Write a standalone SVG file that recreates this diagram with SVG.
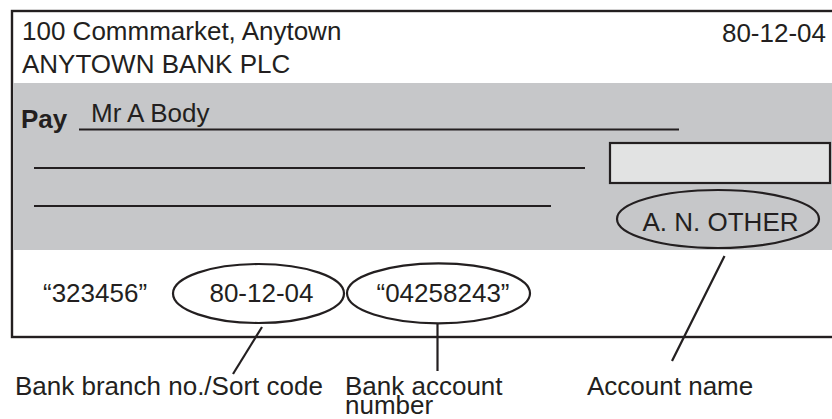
<svg xmlns="http://www.w3.org/2000/svg" width="832" height="419" viewBox="0 0 832 419">
<style>
text{font-family:"Liberation Sans",Arial,sans-serif;font-size:26px;fill:#231f20}
.b{font-weight:bold}
.ln{stroke:#231f20;stroke-width:2.2;fill:none}
.ov{stroke:#231f20;stroke-width:2.2;fill:none}
</style>
<rect width="832" height="419" fill="#fff"/>
<g id="cheque">
<rect x="12" y="11" width="830" height="326" fill="#fff" stroke="#231f20" stroke-width="2.4"/>
<rect x="13.2" y="83" width="820" height="167" fill="#c6c7c9"/>
</g>
<g id="header">
<text x="22" y="39.5">100 Commmarket, Anytown</text>
<text x="22" y="73">ANYTOWN BANK PLC</text>
<text x="826" y="42" text-anchor="end">80-12-04</text>
</g>
<g id="payee">
<text x="21" y="127.5" class="b" font-size="24">Pay</text>
<text x="91" y="122">Mr A Body</text>
<line class="ln" x1="79" y1="129.5" x2="679" y2="129.5"/>
<line class="ln" x1="34" y1="168" x2="585" y2="168"/>
<line class="ln" x1="34" y1="206" x2="551" y2="206"/>
</g>
<g id="amount-box">
<rect x="610" y="143" width="220" height="40" fill="#e2e3e3" stroke="#231f20" stroke-width="2.2"/>
</g>
<g id="account-name">
<ellipse class="ov" cx="718" cy="219" rx="101" ry="29"/>
<text x="720.5" y="230.5" text-anchor="middle">A. N. OTHER</text>
</g>
<g id="cheque-no">
<text x="43" y="302">“323456”</text>
</g>
<g id="sort-code">
<ellipse class="ov" cx="258.5" cy="293.5" rx="85.5" ry="29.5"/>
<text x="261.5" y="302" text-anchor="middle">80-12-04</text>
</g>
<g id="account-no">
<ellipse class="ov" cx="438.5" cy="293.3" rx="91.5" ry="30"/>
<text x="443" y="301.7" text-anchor="middle">“04258243”</text>
</g>
<g id="connectors">
<line class="ln" x1="262" y1="327" x2="233" y2="374"/>
<line class="ln" x1="437.5" y1="323" x2="437.5" y2="371"/>
<line class="ln" x1="724.5" y1="256" x2="672" y2="361"/>
</g>
<g id="label-sort">
<text x="15" y="395">Bank branch no./Sort code</text>
</g>
<g id="label-account">
<text x="345" y="395">Bank account</text>
<text x="345" y="414">number</text>
</g>
<g id="label-name">
<text x="587" y="395">Account name</text>
</g>
</svg>
